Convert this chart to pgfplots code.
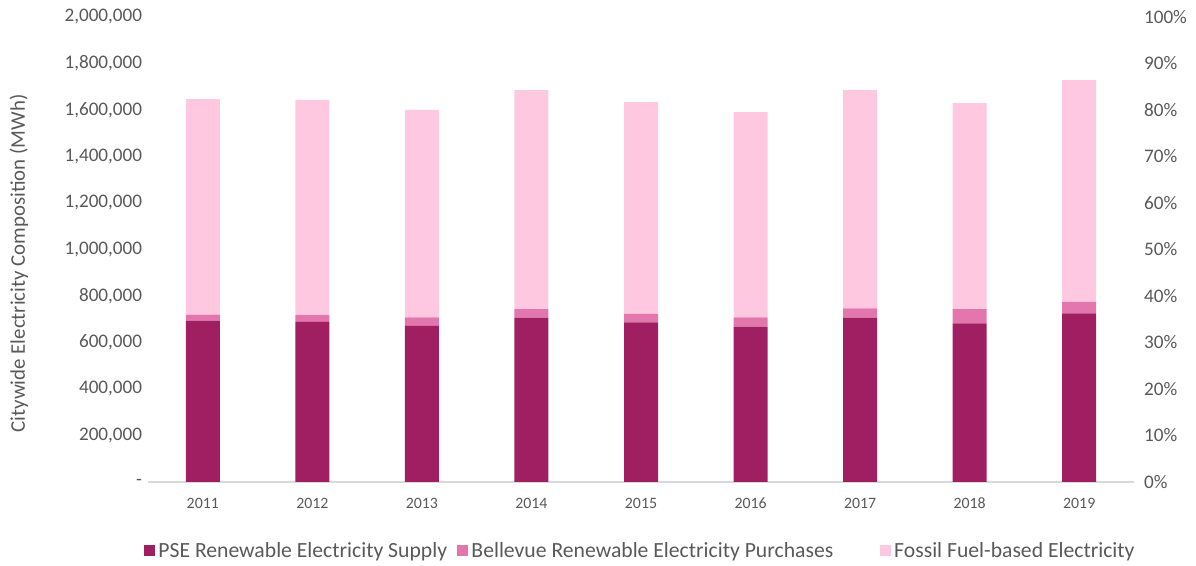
\documentclass[border=0pt]{standalone}
\usepackage{fontspec}
\setmainfont{Carlito}
\usepackage{pgfplots}
\usepackage{pgfplotstable}
\pgfplotsset{compat=1.18}
\definecolor{pse}{HTML}{A01F62}
\definecolor{bel}{HTML}{E377AD}
\definecolor{fos}{HTML}{FFC8E1}
\definecolor{txt}{HTML}{595959}
\definecolor{axl}{HTML}{D9D9D9}

% MWh by year (0 = 2011 ... 8 = 2019)
\pgfplotstableread{
x pse bel fos
0 694000 26000 927000
1 689000 29000 926000
2 672000 36000 893000
3 707000 37000 941000
4 687000 36000 911000
5 668000 40000 883000
6 707000 40000 940000
7 682000 62000 886000
8 725000 50000 953000
}\elec

\begin{document}
\begin{tikzpicture}
\useasboundingbox (0pt,0pt) rectangle (717.6pt,339.6pt);
\begin{axis}[
  at={(88.8pt,50.4pt)}, anchor=south west,
  scale only axis, width=591.6pt, height=279pt,
  ybar stacked, bar width=20.4pt,
  xmin=-0.5, xmax=8.5, ymin=0, ymax=2000000,
  xtick={0,...,8},
  xticklabels={2011,2012,2013,2014,2015,2016,2017,2018,2019},
  ytick={0,200000,400000,600000,800000,1000000,1200000,1400000,1600000,1800000,2000000},
  yticklabels={-,{200,000},{400,000},{600,000},{800,000},{1,000,000},{1,200,000},{1,400,000},{1,600,000},{1,800,000},{2,000,000}},
  scaled y ticks=false,
  axis x line*=bottom, axis y line*=left,
  x axis line style={axl, line width=1.2pt, -},
  y axis line style={draw=none},
  major tick length=0pt,
  xticklabel style={txt, font=\fontsize{9.5}{11}\selectfont, yshift=-6pt},
  yticklabel style={txt, font=\fontsize{11.5}{13}\selectfont},
  ylabel={Citywide Electricity Composition (MWh)},
  ylabel style={txt, font=\fontsize{12.5}{14}\selectfont, at={(axis description cs:-0.1308,0.47)}, anchor=center},
  legend style={draw=none, fill=none, at={(0.5,-0.148)}, anchor=center,
    font=\fontsize{13}{15}\selectfont, text=txt,
    /tikz/column 2/.style={column sep=4pt},
    /tikz/column 4/.style={column sep=26pt}},
  legend columns=3,
  legend image code/.code={\fill[#1] (0pt,-3.3pt) rectangle (6.6pt,3.3pt);},
]
\addplot[fill=pse, draw=none] table[x=x, y=pse] {\elec};
\addplot[fill=bel, draw=none] table[x=x, y=bel] {\elec};
\addplot[fill=fos, draw=none] table[x=x, y=fos] {\elec};
\legend{PSE Renewable Electricity Supply, Bellevue Renewable Electricity Purchases, Fossil Fuel-based Electricity}
\end{axis}
\begin{axis}[
  at={(88.8pt,50.4pt)}, anchor=south west,
  scale only axis, width=591.6pt, height=279pt,
  xmin=-0.5, xmax=8.5, ymin=0, ymax=100,
  axis y line*=right, axis x line=none,
  y axis line style={draw=none},
  major tick length=0pt,
  ytick={0,10,...,100},
  yticklabels={0\%,10\%,20\%,30\%,40\%,50\%,60\%,70\%,80\%,90\%,100\%},
  yticklabel style={txt, font=\fontsize{11.5}{13}\selectfont, anchor=west, xshift=2.5pt},
]
\end{axis}
\end{tikzpicture}
\end{document}
